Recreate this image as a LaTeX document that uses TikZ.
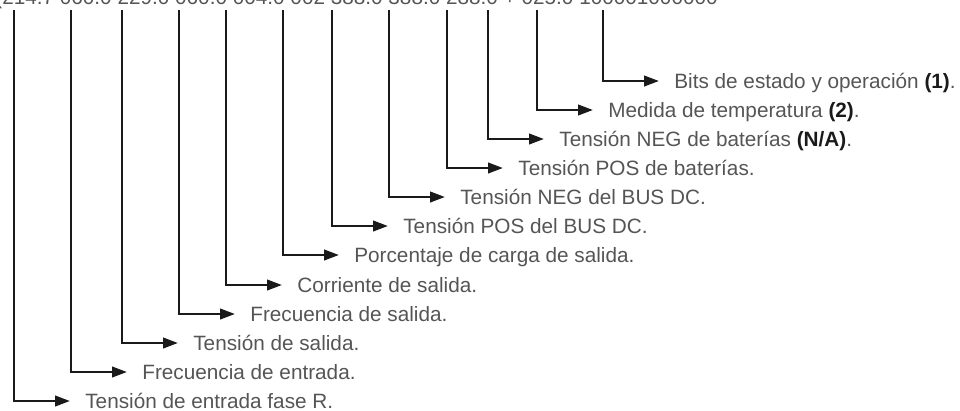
\documentclass[tikz,border=0pt]{standalone}
\usepackage{fontspec}
\setmainfont{Liberation Sans}
\usetikzlibrary{arrows.meta}
\definecolor{textogris}{HTML}{555555}
\definecolor{lineanegra}{HTML}{1A1A1A}
\newcommand{\nota}[1]{{\bfseries\color{lineanegra}#1}}
\begin{document}
\begin{tikzpicture}[x=0.2mm,y=-0.2mm,
  campo/.style={anchor=west,inner sep=0pt,text height=8.4pt,text depth=0pt,
    text=textogris,font=\fontsize{11.8}{14}\selectfont},
  flecha/.style={draw=lineanegra,line width=1.4pt,
    -{Triangle[length=0.3cm,width=0.21cm]},shorten >=0.3cm}]
\useasboundingbox (0,0) rectangle (960,410);
\clip (0,0) rectangle (960,410);

\node[anchor=base west,inner sep=0pt,text=textogris,font=\fontsize{11.8}{14}\selectfont]
  (trama) at (-5,4.5) {(214.7 060.0 229.0 060.0 004.0 002 388.0 388.0 288.0 + 025.0 100001000000};

\coordinate (v1) at (14,10);
\node[campo] (c1) at (85,401) {Tensión de entrada fase R.};
\draw[flecha] (v1) |- (c1.west);

\coordinate (v2) at (71,10);
\node[campo] (c2) at (142,372) {Frecuencia de entrada.};
\draw[flecha] (v2) |- (c2.west);

\coordinate (v3) at (122,10);
\node[campo] (c3) at (193,343) {Tensión de salida.};
\draw[flecha] (v3) |- (c3.west);

\coordinate (v4) at (179,10);
\node[campo] (c4) at (250,314) {Frecuencia de salida.};
\draw[flecha] (v4) |- (c4.west);

\coordinate (v5) at (226,10);
\node[campo] (c5) at (297,285) {Corriente de salida.};
\draw[flecha] (v5) |- (c5.west);

\coordinate (v6) at (283,10);
\node[campo] (c6) at (354,255) {Porcentaje de carga de salida.};
\draw[flecha] (v6) |- (c6.west);

\coordinate (v7) at (332,10);
\node[campo] (c7) at (403,226) {Tensión POS del BUS DC.};
\draw[flecha] (v7) |- (c7.west);

\coordinate (v8) at (389,10);
\node[campo] (c8) at (460,197) {Tensión NEG del BUS DC.};
\draw[flecha] (v8) |- (c8.west);

\coordinate (v9) at (447,10);
\node[campo] (c9) at (518,168) {Tensión POS de baterías.};
\draw[flecha] (v9) |- (c9.west);

\coordinate (v10) at (488,10);
\node[campo] (c10) at (559,139) {Tensión NEG de baterías \nota{(N/A)}.};
\draw[flecha] (v10) |- (c10.west);

\coordinate (v11) at (537,10);
\node[campo] (c11) at (608,110) {Medida de temperatura \nota{(2)}.};
\draw[flecha] (v11) |- (c11.west);

\coordinate (v12) at (603,10);
\node[campo] (c12) at (674,81) {Bits de estado y operación \nota{(1)}.};
\draw[flecha] (v12) |- (c12.west);

\end{tikzpicture}
\end{document}
